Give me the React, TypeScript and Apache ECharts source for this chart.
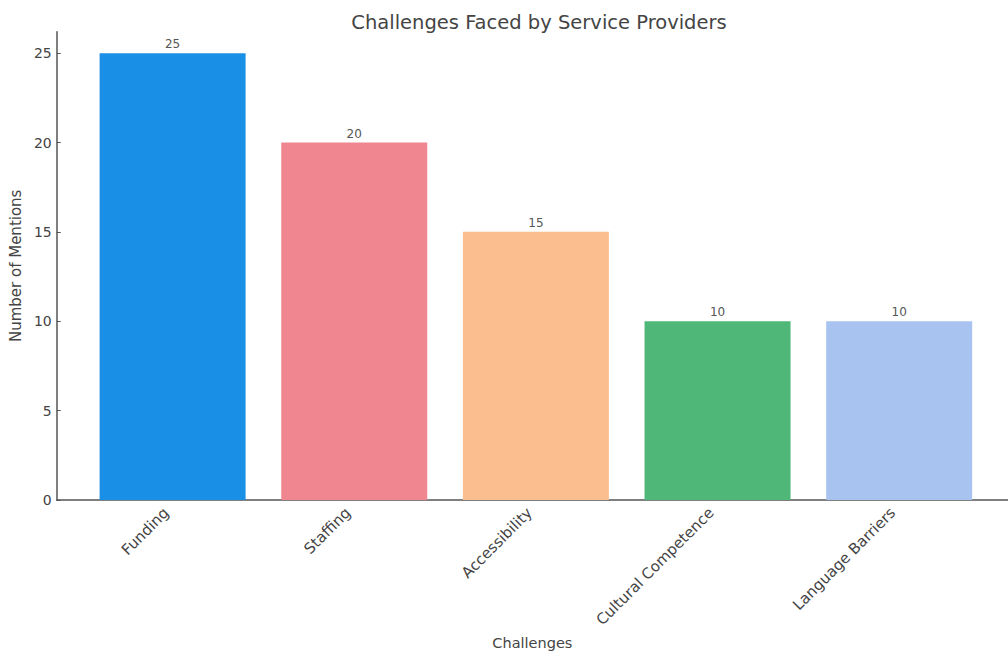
import React, { useEffect, useRef } from "react";
import * as echarts from "echarts";

const categories = ["Funding", "Staffing", "Accessibility", "Cultural Competence", "Language Barriers"];
const mentions = [25, 20, 15, 10, 10];
const barColors = ["#1a8fe6", "#f0868f", "#fbbf8f", "#4fb879", "#a9c3f1"];
const yTicks = [0, 5, 10, 15, 20, 25];

export default function App() {
  const ref = useRef<HTMLDivElement>(null);
  useEffect(() => {
    const chart = echarts.init(ref.current!, null, { renderer: "svg" });
    const font = "'DejaVu Sans', sans-serif";
    chart.setOption({
      animation: false,
      backgroundColor: "#ffffff",
      title: {
        text: "Challenges Faced by Service Providers",
        left: 534,
        textAlign: "center",
        top: 7,
        textStyle: { fontFamily: font, fontSize: 19.5, fontWeight: "normal", color: "#444" },
      },
      grid: { left: 51.7, right: 0, top: 31.7, bottom: 146.7, containLabel: false },
      xAxis: {
        type: "value",
        min: -0.638,
        max: 4.599,
        splitLine: { show: false },
        axisLine: { show: true, lineStyle: { color: "#555", width: 1.5 } },
        axisTick: { show: false },
        axisLabel: {
          rotate: 45,
          fontFamily: font,
          fontSize: 15,
          color: "#444",
          margin: 4,
          padding: [0, 9, 0, 0],
          customValues: categories.map((_, i) => i),
          formatter: (v: number) => categories[Math.round(v)] ?? "",
        },
        name: "Challenges",
        nameLocation: "middle",
        nameGap: 128,
        nameTextStyle: { fontFamily: font, fontSize: 14.5, color: "#444" },
      },
      yAxis: {
        type: "value",
        min: 0,
        max: 26.2,
        interval: 5,
        splitLine: { show: false },
        axisLine: { show: true, onZero: false, lineStyle: { color: "#555", width: 1.5 } },
        axisTick: { show: true, inside: true, length: 4, lineStyle: { color: "#555" }, customValues: yTicks },
        axisLabel: {
          fontFamily: font,
          fontSize: 14,
          color: "#444",
          margin: 5,
          customValues: yTicks,
        },
        name: "Number of Mentions",
        nameLocation: "middle",
        nameGap: 24,
        nameRotate: 90,
        nameTextStyle: { fontFamily: font, fontSize: 15, color: "#444" },
      },
      series: [
        {
          type: "bar",
          barWidth: 146,
          data: mentions.map((v, i) => ({ value: [i, v], itemStyle: { color: barColors[i] } })),
          label: {
            show: true,
            position: "top",
            distance: 3,
            fontFamily: font,
            fontSize: 12,
            color: "#555",
            formatter: (p: any) => String(p.value[1]),
          },
        },
      ],
    });
    return () => chart.dispose();
  }, []);
  return (
    <div
      ref={ref}
      style={{ position: "fixed", left: 0, top: 0, width: 1008, height: 655, overflow: "hidden" }}
    />
  );
}
